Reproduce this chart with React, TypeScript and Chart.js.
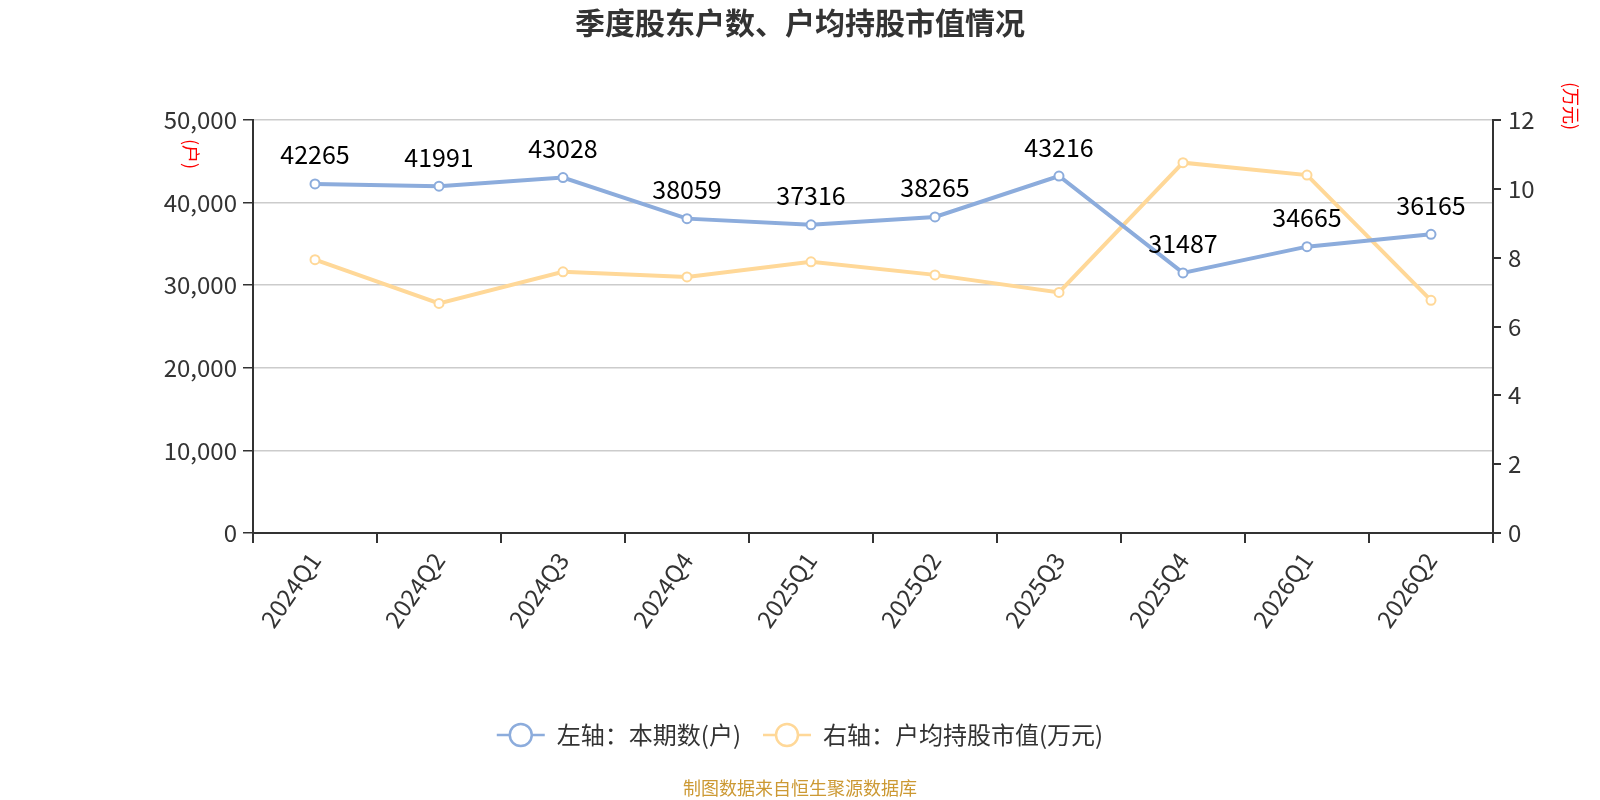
import React, { useEffect, useRef } from "react";
import { Chart, registerables } from "chart.js";

Chart.register(...registerables);

const quarters = [
  "2024Q1", "2024Q2", "2024Q3", "2024Q4", "2025Q1",
  "2025Q2", "2025Q3", "2025Q4", "2026Q1", "2026Q2",
];
// 本期数(户)
const holderCounts = [42265, 41991, 43028, 38059, 37316, 38265, 43216, 31487, 34665, 36165];
// 户均持股市值(万元)
const avgHoldingValue = [7.94, 6.67, 7.59, 7.44, 7.88, 7.5, 6.99, 10.76, 10.4, 6.76];

const leftMax = 50000;
const leftStep = 10000;
const rightMax = 12;
const rightStep = 2;

const BLUE = "#8cacdc";
const YELLOW = "#ffd898";
const FONT = '"Noto Sans CJK SC", "Noto Sans", sans-serif';

const decorPlugin = {
  id: "decor",
  afterDatasetsDraw(chart: any) {
    const ctx = chart.ctx;
    const meta = chart.getDatasetMeta(0);
    ctx.save();
    // value labels above the blue points
    ctx.font = `25px ${FONT}`;
    ctx.fillStyle = "#000";
    ctx.textAlign = "center";
    ctx.textBaseline = "middle";
    meta.data.forEach((pt: any, i: number) => {
      ctx.fillText(String(holderCounts[i]), pt.x, pt.y - 29);
    });
    ctx.restore();
  },
  afterDraw(chart: any) {
    const ctx = chart.ctx;
    const area = chart.chartArea;
    const w = chart.width;
    ctx.save();

    // title
    ctx.font = `bold 30px ${FONT}`;
    ctx.fillStyle = "#333";
    ctx.textAlign = "center";
    ctx.textBaseline = "middle";
    ctx.fillText("季度股东户数、户均持股市值情况", w / 2, 23);

    // axis units, vertical text
    ctx.font = `18px ${FONT}`;
    ctx.fillStyle = "#ff0000";
    ctx.save();
    ctx.translate(area.left - 62, area.top + 34);
    ctx.rotate(Math.PI / 2);
    ctx.fillText("(户)", 0, 0);
    ctx.restore();
    ctx.save();
    ctx.translate(area.right + 78, area.top - 14);
    ctx.rotate(Math.PI / 2);
    ctx.fillText("(万元)", 0, 0);
    ctx.restore();

    // legend
    const items = [
      { text: "左轴：本期数(户)", color: BLUE },
      { text: "右轴：户均持股市值(万元)", color: YELLOW },
    ];
    ctx.font = `24px ${FONT}`;
    const symW = 48;
    const symGap = 12;
    const itemGap = 22;
    const widths = items.map((it) => ctx.measureText(it.text).width);
    const total = widths.reduce((a, b) => a + b, 0) + items.length * (symW + symGap) + itemGap;
    let x = w / 2 - total / 2;
    const ly = 735;
    items.forEach((it, i) => {
      ctx.strokeStyle = it.color;
      ctx.lineWidth = 2.5;
      ctx.beginPath();
      ctx.moveTo(x, ly);
      ctx.lineTo(x + symW, ly);
      ctx.stroke();
      ctx.beginPath();
      ctx.arc(x + symW / 2, ly, 11, 0, Math.PI * 2);
      ctx.fillStyle = "#fff";
      ctx.fill();
      ctx.stroke();
      ctx.fillStyle = "#333";
      ctx.textAlign = "left";
      ctx.textBaseline = "middle";
      ctx.fillText(it.text, x + symW + symGap, ly);
      x += symW + symGap + widths[i] + itemGap;
    });

    // source
    ctx.font = `18px ${FONT}`;
    ctx.fillStyle = "#cc9933";
    ctx.textAlign = "center";
    ctx.fillText("制图数据来自恒生聚源数据库", w / 2, 788);
    ctx.restore();
  },
};

const App: React.FC = () => {
  const canvasRef = useRef<HTMLCanvasElement | null>(null);

  useEffect(() => {
    document.body.style.margin = "0";
    if (!canvasRef.current) return;

    const chart = new Chart(canvasRef.current, {
      type: "line",
      data: {
        labels: quarters,
        datasets: [
          {
            label: "左轴：本期数(户)",
            data: holderCounts,
            yAxisID: "y",
            borderColor: BLUE,
            backgroundColor: "#fff",
            borderWidth: 4,
            pointRadius: 4.5,
            pointBorderWidth: 2,
            pointBackgroundColor: "#fff",
            pointBorderColor: BLUE,
            tension: 0,
          },
          {
            label: "右轴：户均持股市值(万元)",
            data: avgHoldingValue,
            yAxisID: "y1",
            borderColor: YELLOW,
            backgroundColor: "#fff",
            borderWidth: 4,
            pointRadius: 4.5,
            pointBorderWidth: 2,
            pointBackgroundColor: "#fff",
            pointBorderColor: YELLOW,
            tension: 0,
          },
        ],
      },
      options: {
        responsive: true,
        maintainAspectRatio: false,
        animation: false,
        layout: { padding: { top: 120, left: 0, right: 0, bottom: 0 } },
        plugins: {
          legend: { display: false },
          title: { display: false },
          tooltip: { enabled: false },
        },
        scales: {
          x: {
            offset: true,
            grid: {
              offset: true,
              drawOnChartArea: false,
              drawTicks: true,
              tickLength: 10,
              tickColor: "#333",
              lineWidth: 2,
            },
            border: { display: true, color: "#333", width: 2 },
            ticks: {
              color: "#333",
              font: { size: 24, family: FONT },
              minRotation: 55,
              maxRotation: 55,
              padding: 4,
              autoSkip: false,
            },
            afterFit: (s: any) => {
              s.height = 267;
            },
          },
          y: {
            position: "left",
            min: 0,
            max: leftMax,
            ticks: {
              stepSize: leftStep,
              color: "#333",
              font: { size: 24, family: FONT },
              padding: 6,
              callback: (v: any) => Number(v).toLocaleString("en-US"),
            },
            grid: {
              color: "#cccccc",
              lineWidth: 1.5,
              tickColor: "#333",
              tickLength: 10,
            },
            border: { display: true, color: "#333", width: 2 },
            afterFit: (s: any) => {
              s.width = 253;
            },
          },
          y1: {
            position: "right",
            min: 0,
            max: rightMax,
            ticks: {
              stepSize: rightStep,
              color: "#333",
              font: { size: 24, family: FONT },
              padding: 7,
            },
            grid: {
              drawOnChartArea: false,
              tickColor: "#333",
              tickLength: 8,
              lineWidth: 2,
            },
            border: { display: true, color: "#333", width: 2 },
            afterFit: (s: any) => {
              s.width = 107;
            },
          },
        },
      },
      plugins: [decorPlugin],
    });

    return () => {
      chart.destroy();
    };
  }, []);

  return (
    <div style={{ width: 1600, height: 800, position: "relative" }}>
      <canvas ref={canvasRef} />
    </div>
  );
};

export default App;
